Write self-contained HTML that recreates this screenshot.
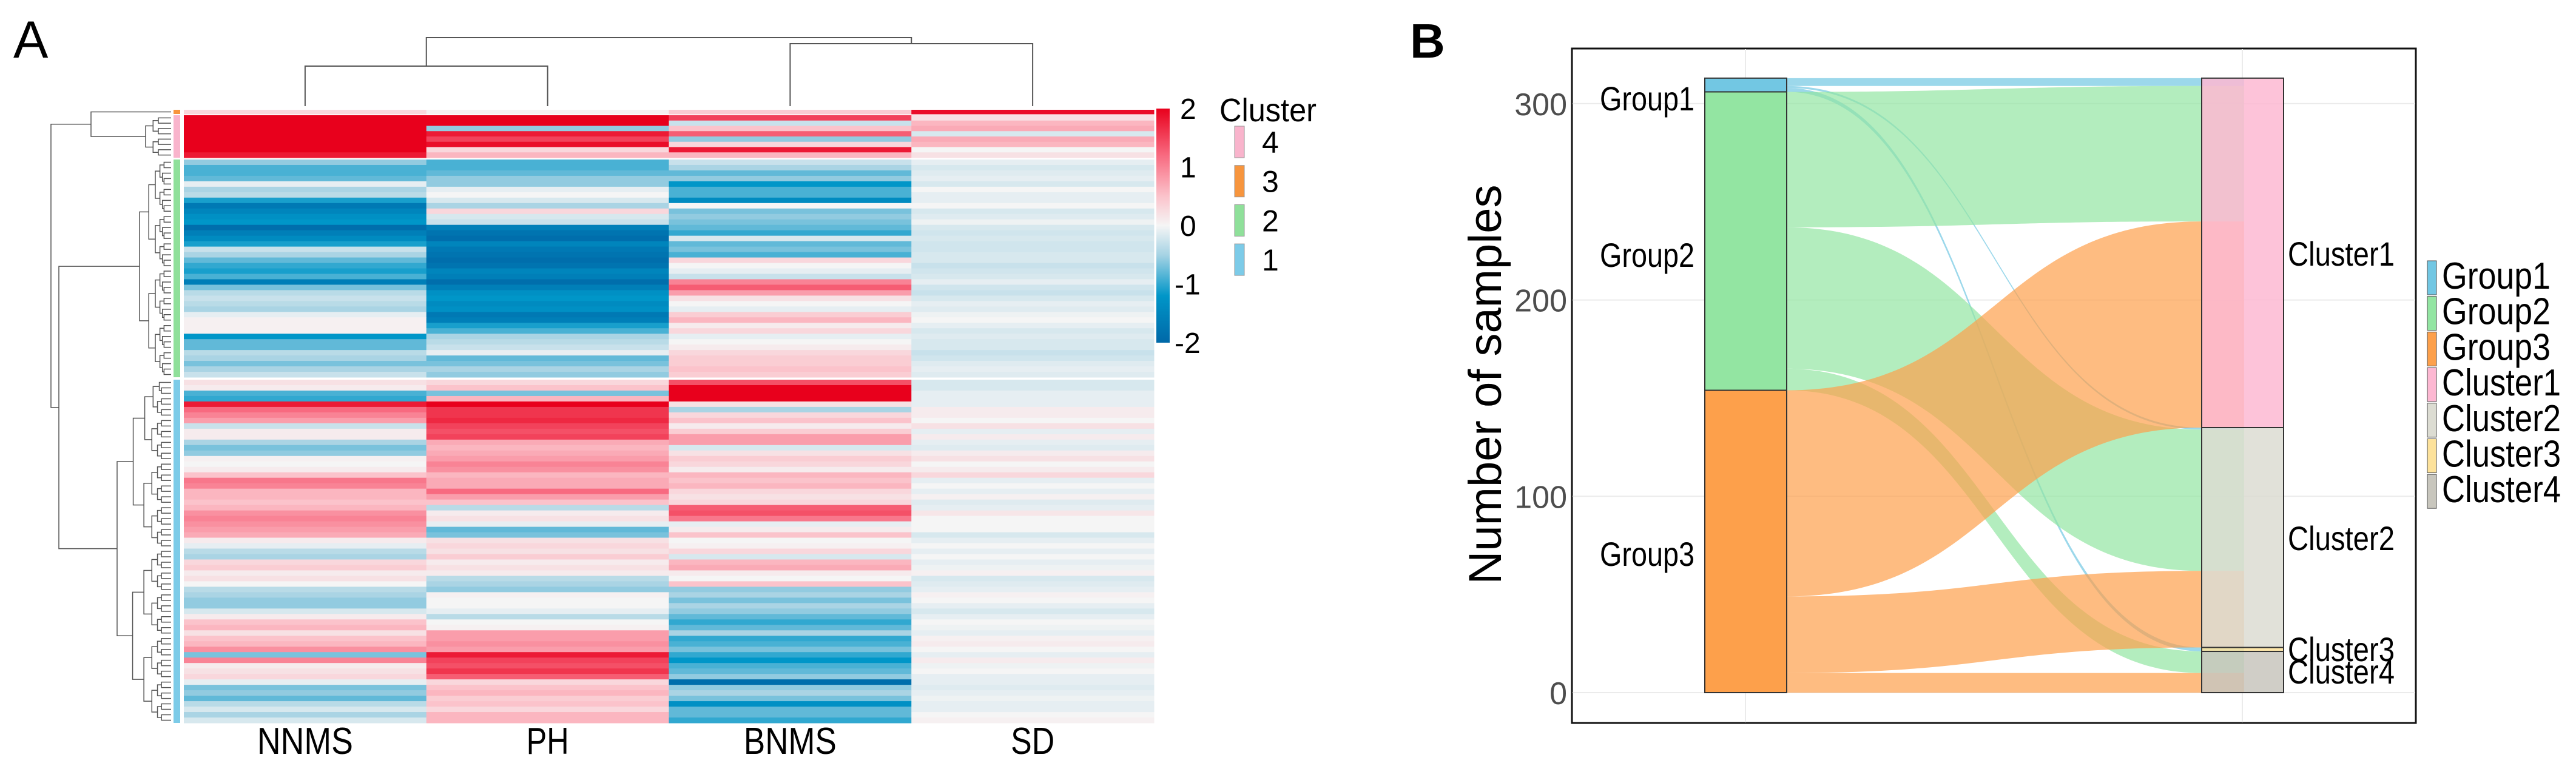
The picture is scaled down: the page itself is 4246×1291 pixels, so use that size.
<!DOCTYPE html>
<html><head><meta charset="utf-8">
<style>
html,body{margin:0;padding:0;background:#fff;}
svg{display:block;font-family:"Liberation Sans",sans-serif;}
</style></head>
<body>
<svg id="fig" width="4246" height="1291" viewBox="0 0 4246 1291" xmlns="http://www.w3.org/2000/svg">
<defs>
<linearGradient id="cbar" x1="0" y1="0" x2="0" y2="1">
<stop offset="0" stop-color="#e8001c"/><stop offset="0.2" stop-color="#f86a80"/><stop offset="0.375" stop-color="#fbc3cb"/><stop offset="0.5" stop-color="#f5f5f5"/><stop offset="0.625" stop-color="#a6d3e4"/><stop offset="0.8" stop-color="#0096c8"/><stop offset="1" stop-color="#0068a8"/>
</linearGradient>
</defs>
<g id="panelA">
<text x="22" y="95" font-size="86">A</text>
<g id="colDendro" stroke="#555" stroke-width="2" fill="none"></g>
<g id="rowDendro" stroke="#555" stroke-width="1.5" fill="none"></g>
<g id="rowAnno"></g>
<g id="heat"></g>
<g id="colLabels"></g>
<rect x="1906" y="179" width="22" height="386" fill="url(#cbar)"/>
<g id="cbarLabels" font-size="48"></g>
<text x="2010" y="200" font-size="54" textLength="160" lengthAdjust="spacingAndGlyphs">Cluster</text>
<g id="clusterLegend" font-size="50"></g>
</g>
<g id="panelB">
<text x="2324" y="95" font-size="80" font-weight="bold">B</text>
<rect x="2591" y="80" width="1391" height="1112" fill="#fff" stroke="#111" stroke-width="3"/>
<g id="grid" stroke="#ebebeb" stroke-width="2"></g>
<g id="flows"></g>
<g id="strata"></g>
<g id="yticks" font-size="52" fill="#4d4d4d"></g>
<text transform="translate(2474,634) rotate(-90)" text-anchor="middle" font-size="76" textLength="659" lengthAdjust="spacingAndGlyphs">Number of samples</text>
<g id="stratumLabels" font-size="56"></g>
<g id="legendB" font-size="62"></g>
</g>
</svg>
<script>
// ---------- Heatmap data ----------
const columns = ["NNMS","PH","BNMS","SD"];
const sliceClusters = [3,4,2,1];
const sliceSizes = [1,8,40,63];
const nnms = [0.3,
 2,2,2,2,2,2,2,1.8,
 -0.6,-0.9,-0.9,-0.8,-0.1,-0.5,-0.4,-1.1,-1.7,-1.5,-1.3,-1.2,-1.9,-1.6,-1.4,-1.1,-0.3,-0.5,-0.8,-1,-1.1,-0.9,-1.6,-0.7,-0.4,-0.3,-0.4,-0.5,-0.1,0.05,0.05,0.05,-1.2,-0.8,-0.8,-0.4,-0.5,-0.7,-0.5,-0.3,
 0.2,0.1,-0.9,-1.0,1.8,1.2,
 1.0,0.8,-0.3,0.1,0.1,-0.5,-0.7,-0.6,0.05,0,0.1,0.5,1.1,1.0,0.6,0.6,0.5,0.6,0.9,1.0,0.9,0.8,0.7,0.1,-0.1,-0.4,-0.5,0.3,0.4,0.1,0.2,0,-0.4,-0.5,-0.6,-0.6,-0.2,0.1,0.5,0.6,0.2,0.5,0.6,0.9,-0.7,1.0,0.1,0.2,0.3,-0.1,-0.7,-0.6,-0.8,-0.4,-0.2,-0.5,-0.2];
const ph = [0.05,
 2,2,-0.6,1.8,1.5,1.9,0.3,0.6,
 -0.9,-0.9,-0.8,-0.6,-0.6,-0.1,0,-0.2,-0.5,0.3,-0.2,-0.3,-1.6,-1.8,-1.9,-1.5,-1.7,-1.8,-1.9,-1.8,-1.5,-1.6,-1.9,-1.6,-1.3,-1.2,-1.4,-1.3,-1.7,-1.6,-1.1,-0.9,-0.5,-0.4,-0.3,-0.1,-0.8,-0.7,-0.5,-0.6,
 0.3,0.5,-0.7,0.6,2,1.6,
 1.6,1.7,1.5,1.4,1.5,0.7,0.6,0.7,0.8,1.0,0.9,0.6,0.7,0.7,1.2,0.8,0.5,-0.4,0.1,0.2,-0.1,-0.8,-0.7,0.2,0.3,0.2,0.4,0.1,0.2,0.1,-0.4,-0.5,-0.6,0.05,0,0,-0.1,-0.4,0,0.05,0.8,0.8,0.9,0.8,1.8,1.5,1.4,1.6,1.3,0.3,0.5,0.6,0.4,0.5,0.3,0.6,0.6];
const bnms = [0.4,
 1.5,-0.3,0.5,1.3,-0.6,0.3,1.8,0.6,
 -0.3,-0.5,-0.8,-0.6,-1.2,-0.9,-0.9,-1.4,0,-0.7,-0.6,-0.7,-0.8,-1,-0.2,-0.8,-0.7,-0.9,0.3,0,-0.1,-0.3,1.0,1.3,0.8,0.2,0,-0.1,0.4,0.6,0.1,0.3,-0.1,0,0.1,0.3,0.4,0.4,0.5,0.4,
 1.4,2,2,2,0.2,-0.5,
 0.3,0.5,0.1,0.4,0.8,0.8,-0.2,0.2,0.4,0.3,0.1,0.6,0.5,0.6,0.3,0.2,0.3,1.3,1.4,1.1,-0.1,0.1,0.5,0,0.05,0.3,-0.2,0.6,0.7,0.1,0,0.5,-0.6,-0.5,-0.7,-0.5,-0.6,-0.8,-1.0,-0.8,-0.5,-1.0,-0.9,-0.7,-1.0,-1.2,-0.9,-0.8,-0.6,-1.9,-0.6,-0.5,-0.7,-1.3,-0.8,-0.8,-1.0];
const sd = [1.9,
 0.2,0.6,0.7,-0.2,0.7,0.6,0,0.2,
 -0.1,-0.2,-0.15,-0.1,-0.2,0,-0.1,-0.1,0,-0.2,-0.15,-0.05,-0.2,-0.25,-0.2,-0.25,-0.25,-0.2,-0.2,-0.3,-0.25,-0.2,-0.1,-0.25,-0.3,-0.2,-0.1,-0.15,-0.05,0,-0.1,-0.2,-0.15,-0.2,-0.2,-0.3,-0.25,-0.15,-0.1,-0.15,
 -0.2,-0.2,-0.1,-0.1,-0.1,0.1,0.1,0,0.2,-0.1,0.1,-0.1,-0.15,0.1,0.2,0,0.1,0.3,-0.1,0,-0.1,0.05,-0.15,-0.1,0.15,0,0,0,-0.2,-0.1,0,-0.1,0,-0.1,-0.05,0.05,-0.2,-0.15,-0.1,0.05,0,-0.1,-0.2,-0.1,0,-0.05,-0.1,0.05,0.1,0,-0.1,0.1,-0.05,0,-0.1,-0.1,-0.15,-0.1,-0.05,-0.1,-0.1,0,0.05];
const colorTicks = [2,1,0,-1,-2];
const legendClusters = [4,3,2,1];

// ---------- Alluvial data ----------
const groups = ["Group1","Group2","Group3"];
const clusters = ["Cluster1","Cluster2","Cluster3","Cluster4"];
const flowGroup1 = [4,1,2,0];
const flowGroup2 = [69,72,0,11];
const flowGroup3 = [105,39,0,10];
const yTicks = [0,100,200,300];

const NS="http://www.w3.org/2000/svg";
function mk(tag,attrs,parent){const e=document.createElementNS(NS,tag);for(const k in attrs)e.setAttribute(k,attrs[k]);parent.appendChild(e);return e;}

// ---------- Heatmap ----------
const stops=[[-2,[0,104,168]],[-1.2,[0,150,200]],[-0.5,[170,212,228]],[0,[245,245,245]],[0.5,[251,195,203]],[1.2,[248,106,128]],[2,[232,0,28]]];
function colorOf(v){v=Math.max(-2,Math.min(2,v||0));for(let i=0;i<stops.length-1;i++){const a=stops[i],b=stops[i+1];if(v<=b[0]){const t=(v-a[0])/(b[0]-a[0]);const c=a[1].map((x,j)=>Math.round(x+(b[1][j]-x)*t));return `rgb(${c[0]},${c[1]},${c[2]})`;}}return "rgb(232,0,28)";}
const hmX0=303,hmX1=1902,hmY0=181,hmY1=1192;
const colW=(hmX1-hmX0)/columns.length;
const sliceRanges=[[181,188],[190,260],[263,622],[626,1192]];
const colData=[nnms,ph,bnms,sd];
const heat=document.getElementById('heat');
const anno=document.getElementById('rowAnno');
const annoColors={1:"#7ccbe8",2:"#8fe09a",3:"#f7953d",4:"#f9b4cc"};
const rowCenters=[];
let idx=0;
sliceSizes.forEach((n,s)=>{
  const [y0,y1]=sliceRanges[s];const h=(y1-y0)/n;const centers=[];
  for(let r=0;r<n;r++){
    const y=y0+r*h;centers.push(y+h/2);
    colData.forEach((arr,c)=>{
      const e=mk('rect',{x:hmX0+c*colW,y:y,width:colW+0.5,height:h+0.5,fill:colorOf(arr[idx])},heat);
      
      
    });
    idx++;
  }
  rowCenters.push(centers);
  const a=mk('rect',{x:286,y:y0,width:11,height:y1-y0,fill:annoColors[sliceClusters[s]]},anno);
  
  
});
const labW={"NNMS":158,"PH":70,"BNMS":153,"SD":72};
const cl=document.getElementById('colLabels');
columns.forEach((c,i)=>{
  const t=mk('text',{x:hmX0+(i+0.5)*colW,y:1243,'text-anchor':'middle','font-size':62,textLength:labW[c],lengthAdjust:'spacingAndGlyphs'},cl);
  t.textContent=c;
  
  
});
const cd=document.getElementById('colDendro');
const cx=i=>hmX0+(i+0.5)*colW;
function seg(p,pts){mk('polyline',{points:pts.map(q=>q.join(',')).join(' ')},p);}
seg(cd,[[cx(0),175],[cx(0),109],[cx(1),109],[cx(1),175]]);
seg(cd,[[cx(2),175],[cx(2),72],[cx(3),72],[cx(3),175]]);
seg(cd,[[(cx(0)+cx(1))/2,109],[(cx(0)+cx(1))/2,62],[(cx(2)+cx(3))/2,62],[(cx(2)+cx(3))/2,72]]);
const rd=document.getElementById('rowDendro');
function subtree(ys,lo,hi,xRoot){
  if(hi-lo===1)return {y:ys[lo],x:282};
  const mid=Math.floor((lo+hi)/2);
  const span=hi-lo;const total=ys.length;
  const xc=282-(282-xRoot)*Math.pow(span/total,0.5);
  const a=subtree(ys,lo,mid,xRoot),b=subtree(ys,mid,hi,xRoot);
  const xx=Math.min(xc,Math.min(a.x,b.x)-2);
  seg(rd,[[a.x,a.y],[xx,a.y],[xx,b.y],[b.x,b.y]]);
  return {y:(a.y+b.y)/2,x:xx};
}
const t3={y:rowCenters[0][0],x:282};
const t4=subtree(rowCenters[1],0,rowCenters[1].length,240);
const t2=subtree(rowCenters[2],0,rowCenters[2].length,230);
const t1=subtree(rowCenters[3],0,rowCenters[3].length,193);
seg(rd,[[t3.x,t3.y],[150,t3.y],[150,t4.y],[t4.x,t4.y]]);
seg(rd,[[t2.x,t2.y],[97,t2.y],[97,t1.y],[t1.x,t1.y]]);
const n34=(t3.y+t4.y)/2,n21=(t2.y+t1.y)/2;
seg(rd,[[150,n34],[84,n34],[84,n21],[97,n21]]);
const cb=document.getElementById('cbarLabels');
colorTicks.forEach(v=>{
  const y=179+(2-v)/4*386;
  const t=mk('text',{x:v<0?1936:1945,y:y+17},cb);t.textContent=String(v);
  
  
});
const lg=document.getElementById('clusterLegend');
legendClusters.forEach((c,i)=>{
  const top=208+i*64.7;
  const r=mk('rect',{x:2035,y:top,width:16,height:52,fill:annoColors[c],stroke:"#999","stroke-width":1},lg);
  
  
  const t=mk('text',{x:2080,y:top+44},lg);t.textContent=String(c);
  
  
});

// ---------- Alluvial ----------
const flowMatrix=[flowGroup1,flowGroup2,flowGroup3];
const yv=v=>1142-3.237*v;
const gcol=["#72c7e3","#93e5a2","#fda04b"];
const ccol=["#fdb8d2","#dcdcd2","#fde29b","#c8c6bd"];
const grid=document.getElementById('grid');
yTicks.forEach(v=>mk('line',{x1:2592,x2:3981,y1:yv(v),y2:yv(v)},grid));
[2877,3696].forEach(x=>mk('line',{x1:x,x2:x,y1:81,y2:1191},grid));
const yt=document.getElementById('yticks');
yTicks.forEach(v=>{const t=mk('text',{x:2583,y:yv(v)+19,'text-anchor':'end'},yt);t.textContent=String(v);
  
  });
const total=flowMatrix.flat().reduce((a,b)=>a+b,0);
const gTot=flowMatrix.map(r=>r.reduce((a,b)=>a+b,0));
const cTot=clusters.map((_,j)=>flowMatrix.reduce((a,r)=>a+r[j],0));
const gTop=[],cTop=[];let acc=total;
gTot.forEach((n,i)=>{gTop.push(acc);acc-=n;});
acc=total;cTot.forEach((n,j)=>{cTop.push(acc);acc-=n;});
const LX0=2810,LX1=2945,RX0=3629,RX1=3764;
const flowsG=document.getElementById('flows');
const gCur=gTop.slice(),cCur=cTop.slice();
const segs=[];
flowMatrix.forEach((row,i)=>row.forEach((n,j)=>{
  const a0=gCur[i],a1=a0-n;gCur[i]=a1;segs.push({i,j,n,a0,a1});
}));
clusters.forEach((_,j)=>{groups.forEach((_,i)=>{const s=segs.find(q=>q.i===i&&q.j===j);const b0=cCur[j];s.b0=b0;s.b1=b0-s.n;cCur[j]=s.b1;});});
const st=document.getElementById('strata');
groups.forEach((g,i)=>{
  const r=mk('rect',{x:LX0,y:yv(gTop[i]),width:LX1-LX0,height:gTot[i]*3.237,fill:gcol[i],stroke:"#333","stroke-width":2},st);
  
  
});
segs.forEach(s=>{
  if(s.n<=0)return;
  const xm=(LX1+RX0)/2;
  const d=`M${LX1},${yv(s.a0)} C${xm},${yv(s.a0)} ${xm},${yv(s.b0)} ${RX0},${yv(s.b0)} L${RX0+70},${yv(s.b0)} L${RX0+70},${yv(s.b1)} L${RX0},${yv(s.b1)} C${xm},${yv(s.b1)} ${xm},${yv(s.a1)} ${LX1},${yv(s.a1)} Z`;
  const p=mk('path',{d:d,fill:gcol[s.i],'fill-opacity':0.7},flowsG);
  
  
});
clusters.forEach((c,j)=>{
  const r=mk('rect',{x:RX0,y:yv(cTop[j]),width:RX1-RX0,height:cTot[j]*3.237,fill:ccol[j],'fill-opacity':0.85,stroke:"#333","stroke-width":2},flowsG);
  
  
});
const sl=document.getElementById('stratumLabels');
const gLabY=[162,420,913];
groups.forEach((g,i)=>{const t=mk('text',{x:2637,y:gLabY[i]+20,textLength:156,lengthAdjust:'spacingAndGlyphs'},sl);t.textContent=g;
  
  });
const cLabY=[418,887,1070,1107];
clusters.forEach((c,j)=>{const t=mk('text',{x:3771,y:cLabY[j]+20,textLength:176,lengthAdjust:'spacingAndGlyphs'},sl);t.textContent=c;
  
  });
const lb=document.getElementById('legendB');
const legItems=groups.concat(clusters);const legCols=gcol.concat(ccol);
legItems.forEach((n,k)=>{
  const top=430+k*58.7;
  const r=mk('rect',{x:4001,y:top,width:15,height:56,fill:legCols[k],stroke:"#555","stroke-width":1},lb);
  
  
  const t=mk('text',{x:4025,y:top+46,textLength:n.startsWith('G')?179:196,lengthAdjust:'spacingAndGlyphs'},lb);t.textContent=n;
  
  
});
</script>
</body></html>
